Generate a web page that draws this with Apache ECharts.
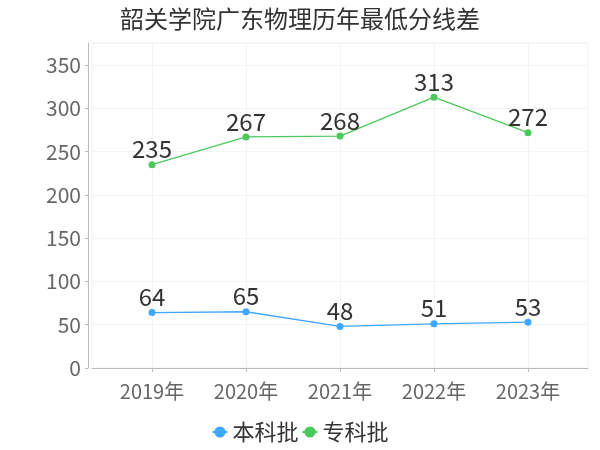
<!DOCTYPE html>
<html>
<head>
<meta charset="utf-8">
<script src="https://cdn.jsdelivr.net/npm/echarts@6/dist/echarts.min.js"></script>
<style>
  html, body { margin: 0; padding: 0; background: #fff; }
  #chart { width: 600px; height: 450px; }
</style>
</head>
<body>
<div id="chart"></div>
<script>
var years = ['2019年', '2020年', '2021年', '2022年', '2023年'];
var benke = [64, 65, 48, 51, 53];
var zhuanke = [235, 267, 268, 313, 272];

var font = '"Noto Sans CJK SC", "Noto Sans", sans-serif';
// y max a bit above the biggest value
var yMax = Math.max.apply(null, benke.concat(zhuanke)) * 1.2;

var myChart = echarts.init(document.getElementById('chart'));
var option = {
  textStyle: { fontFamily: font },
  title: {
    text: '韶关学院广东物理历年最低分线差',
    left: 'center',
    top: 2,
    textStyle: { fontSize: 24, fontWeight: 'normal', color: '#333', fontFamily: font }
  },
  legend: {
    bottom: 2,
    left: 'center',
    itemWidth: 15,
    itemGap: 3,
    textStyle: { fontSize: 22, color: '#333', fontFamily: font },
    data: ['本科批', '专科批']
  },
  grid: [{
    // plotting grid, category centres at 152..528
    left: 152,
    right: 72,
    top: 43,
    bottom: 82
  }, {
    // frame grid with the visible axes
    left: 92,
    right: 12,
    top: 43,
    bottom: 82,
    show: true,
    borderColor: '#f2f2f2',
    borderWidth: 1
  }],
  xAxis: [{
    type: 'category',
    gridIndex: 0,
    data: years,
    boundaryGap: false,
    offset: 4,
    axisLine: { show: false },
    axisTick: { show: true, length: 4, lineStyle: { color: '#bbb' } },
    axisLabel: { fontSize: 20, color: '#666', margin: 9 },
    splitLine: { show: true, lineStyle: { color: '#f3f3f3' } }
  }, {
    type: 'category',
    gridIndex: 1,
    data: years,
    offset: 4,
    axisLine: { lineStyle: { color: '#bbb' } },
    axisTick: { show: false },
    axisLabel: { show: false },
    splitLine: { show: false }
  }],
  yAxis: [{
    type: 'value',
    gridIndex: 0,
    min: 0,
    max: yMax,
    show: false
  }, {
    type: 'value',
    gridIndex: 1,
    min: 0,
    max: yMax,
    interval: 50,
    offset: 4,
    axisLine: { show: true, lineStyle: { color: '#bbb' } },
    axisTick: { show: true, length: 3, lineStyle: { color: '#bbb' } },
    axisLabel: { fontSize: 21, color: '#666', margin: 7, showMaxLabel: false },
    splitLine: { show: true, lineStyle: { color: '#f3f3f3' } }
  }],
  series: [{
    name: '本科批',
    type: 'line',
    xAxisIndex: 0,
    yAxisIndex: 0,
    data: benke,
    symbol: 'circle',
    symbolSize: 7,
    itemStyle: { color: '#3fa7ff' },
    lineStyle: { width: 1.3 },
    label: { show: true, position: 'top', fontSize: 24, color: '#333', distance: 0 }
  }, {
    name: '专科批',
    type: 'line',
    xAxisIndex: 0,
    yAxisIndex: 0,
    data: zhuanke,
    symbol: 'circle',
    symbolSize: 7,
    itemStyle: { color: '#4cc95c' },
    lineStyle: { width: 1.3 },
    label: { show: true, position: 'top', fontSize: 24, color: '#333', distance: 0 }
  }]
};
myChart.setOption(option);
</script>
</body>
</html>
